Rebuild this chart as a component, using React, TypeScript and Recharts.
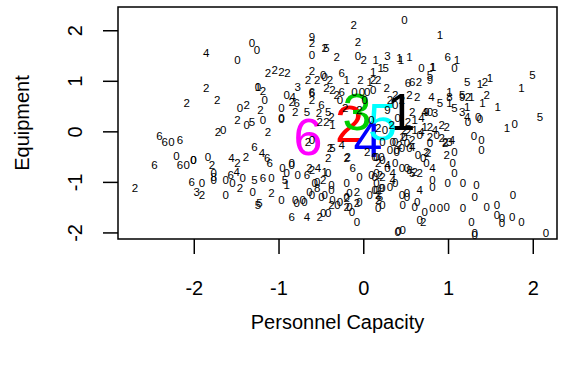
import { ScatterChart, Scatter, XAxis, YAxis, ReferenceArea, Label } from 'recharts';

// small labels: one array of [x, y] per digit
const zeros: [number, number][] = [
  [-1.49, 1.42], [-1.32, 1.76], [-1.26, 1.62], [-1.46, 0.47], [-1.25, 0.89], [-1.38, 0.14], [-1.66, 0.04],
  [-2.27, -0.2], [-2.21, -0.47], [-2.09, -0.65], [-2.01, -0.55], [-2.01, -0.55], [-1.84, -0.49], [-1.77, -0.81],
  [-1.77, -0.95], [-1.63, -0.95], [-1.43, -0.91], [-1.55, -1.01], [-1.31, -1.19], [-1.91, -1.01], [-1.63, -1.24],
  [0.48, 2.21], [-0.61, 1.52], [-0.07, 1.5], [-0.46, 1.09], [-1.17, 0.63], [-0.91, 0.73], [-0.11, 0.79],
  [-0.02, 0.79], [0.04, 0.79], [0.11, 0.83], [-0.97, 0.47], [-0.97, 0.28], [-0.48, 1.13],
  [0.68, 1.26], [1.07, 1.26], [1.35, 0.3], [0.78, 0.4], [1.23, 0.2], [1.37, 0.26], [1.78, 0.16],
  [1.3, -0.08], [1.39, -0.16], [1.39, -0.36], [1.07, -0.4], [1.05, -0.61], [1.07, -0.81], [0.81, -0.95],
  [0.99, -1.01], [1.17, -1.01], [1.33, -1.05], [0.81, -1.09], [1.31, -1.28], [1.76, -1.24], [0.45, -1.24],
  [0.51, -1.21], [0.46, -1.44], [0.6, -1.48], [0.72, -1.58], [0.81, -1.5], [0.9, -1.5], [0.98, -1.48],
  [1.17, -1.5], [1.45, -1.48], [1.57, -1.44], [1.57, -1.64], [1.63, -1.7], [1.63, -1.8], [1.75, -1.68],
  [1.86, -1.78], [1.27, -1.78], [0.66, -1.74], [1.31, -2.04], [1.31, -2.0], [2.15, -2.0], [0.46, -1.94],
  [0.4, -1.98], [0.41, -1.95],
  [0.45, -0.32], [0.54, -0.32], [0.7, -0.51], [0.48, -0.1], [0.66, -0.06], [0.86, -0.06], [0.37, -0.2],
  [0.51, -0.22], [0.78, -0.22], [0.39, -0.4], [0.64, -0.45], [0.15, -0.49], [0.21, -0.49], [0.37, -0.61],
  [0.74, -0.61], [0.45, -0.71], [0.51, -0.71], [0.15, -0.81], [0.37, -1.01], [0.31, -1.09], [0.15, -1.01],
  [0.15, -1.15], [0.22, -1.11], [0.51, -1.28], [0.63, -1.38],
  [-1.19, 0.24], [-0.97, 0.26], [-0.96, -0.71], [-0.85, -0.65], [-0.78, -0.85], [-0.91, -0.81], [-0.42, -0.81],
  [-1.09, -0.91], [-0.97, -1.34], [-0.81, -1.34], [-0.79, -1.4], [-0.7, -1.38], [-0.64, -1.19], [-0.61, -1.24],
  [-0.58, -1.01], [-0.46, -1.24], [-0.38, -1.05], [-0.38, -1.15], [-0.48, -1.6], [-0.42, -1.6], [-0.31, -1.44],
  [-0.17, -1.48], [-0.05, -1.38], [-0.2, -1.01], [-0.17, -1.21], [-0.2, -1.28], [-0.14, -1.58], [-0.08, -1.78],
  [0.07, -1.24], [0.13, -1.15], [0.22, -1.44], [0.17, -1.5], [-0.05, -0.89], [-0.61, -0.16], [0.22, -0.2],
  [0.34, -0.2], [0.39, -0.36], [0.31, -0.36], [0.22, -0.55], [0.13, -0.89], [0.28, -0.71], [-0.85, -0.61],
  [-0.55, -0.99], [-0.72, -1.34], [-0.5, -1.28], [-0.37, -1.34], [-0.28, -1.38], [0.09, -0.85], [0.13, -0.49],
  [0.37, 0.53], [0.25, 0.04], [0.01, 0.63], [-0.28, 0.63], [0.09, 0.24], [0.4, 0.28],
];

const ones: [number, number][] = [
  [-1.25, 0.89], [0.14, 1.42], [0.44, 1.42], [0.2, 1.26], [0.11, 1.19], [-0.2, 1.03], [0.07, 0.99],
  [0.9, 1.92], [0.42, 1.46], [0.54, 1.48], [1.1, 1.42], [0.81, 1.28], [0.82, 1.29], [1.37, 0.95],
  [1.49, 1.07], [1.86, 0.87], [1.01, 0.79], [1.27, 0.69], [1.4, 0.57], [1.58, 0.49], [1.01, 0.57],
  [1.22, 0.49], [0.6, 0.24], [0.72, 0.1], [0.6, 0.04], [1.69, 0.08], [-0.46, -0.79], [-0.91, -1.05],
  [-0.37, 0.14],
];

const twos: [number, number][] = [
  [-1.86, 0.87], [-2.09, 0.57], [-1.73, 0.63], [-1.38, 0.53], [-1.49, 0.24], [-1.72, 0.0], [-1.79, -0.65],
  [-1.49, -0.61], [-1.39, -0.49], [-1.46, -1.11], [-1.91, -1.24], [-2.7, -1.11],
  [-0.12, 2.11], [-0.61, 1.76], [-0.46, 1.66], [-0.07, 1.78], [-0.32, 1.48], [0.0, 1.42], [-1.13, 1.17],
  [-1.05, 1.23], [-0.97, 1.19], [-0.9, 1.17], [-0.61, 1.21], [-0.66, 1.03], [-0.55, 1.03], [-0.4, 1.03],
  [-0.04, 1.03], [0.11, 1.03], [0.17, 1.03], [-1.19, 0.81], [-0.61, 0.63], [-0.85, 0.59], [-0.44, 0.87],
  [-0.37, 0.83], [-0.32, 0.73], [0.27, 0.87], [-1.22, 0.43], [-0.53, 0.38], [-0.38, 0.3], [-0.81, 0.4],
  [0.65, 0.99], [1.43, 0.99], [0.54, 0.73], [0.63, 0.69], [1.23, 0.69], [1.45, 0.73], [0.57, 0.4],
  [0.52, 0.2], [0.78, 0.1], [0.92, 0.14], [0.98, 0.1], [0.52, 0.0],
  [0.98, -0.45], [0.7, -1.78], [0.74, -0.4], [0.57, -0.16], [0.78, -0.1], [0.96, -0.2], [0.46, -0.1],
  [0.92, -0.12], [0.42, -0.26], [0.96, -0.22], [0.76, -0.41], [0.6, -0.79], [0.66, -0.81], [0.22, -0.89],
  [0.17, -1.34],
  [-1.13, 0.0], [-0.64, -0.71], [-1.09, -1.21], [-0.52, -1.68], [-0.38, -1.44], [-0.2, -1.48], [-0.08, -1.4],
  [-0.08, -1.19], [0.17, -1.24], [-0.42, -0.51], [-0.2, -0.51], [-0.66, -0.2], [-0.4, -0.32], [-0.52, 0.2],
  [-0.44, 0.2], [0.04, -0.4], [0.17, -0.61], [0.19, -0.85], [-0.61, -0.75], [-0.48, -0.95], [-0.2, -1.3],
  [-0.19, -0.49],
  [0.31, 0.63], [0.33, 0.14], [0.17, 0.08], [-0.05, 0.43], [-0.22, 0.47], [0.37, 0.73], [0.45, 0.63],
  [0.48, 0.04],
];

const threes: [number, number][] = [
  [-1.97, -1.19], [0.28, 1.5], [-0.78, 0.89], [1.16, 0.4], [0.84, 0.38], [1.01, -0.2],
];

const fours: [number, number][] = [
  [-1.86, 1.56], [-1.56, -0.51], [-1.5, -0.79], [-0.84, 0.69], [0.8, 0.69], [1.22, 0.3], [0.72, 0.4],
  [0.68, 0.28], [0.84, 0.04], [0.68, 0.0], [0.81, -0.71], [0.66, -1.15], [1.04, -0.16], [0.57, -0.3],
  [0.28, -0.65], [0.34, -0.81], [0.34, -0.95], [-1.2, -0.41], [-0.54, -0.71], [-0.67, -1.68], [-0.26, -0.26],
];

const fives: [number, number][] = [
  [-1.32, 0.2], [-1.29, -0.95], [-1.25, -1.44], [-0.44, 1.66], [0.26, 1.26], [0.78, 1.13], [1.22, 0.99],
  [1.99, 1.13], [1.16, 0.73], [0.9, 0.57], [1.07, 0.47], [2.08, 0.3], [0.57, -0.81], [0.19, -1.28],
  [-0.67, 0.4], [-0.42, 0.4], [-0.93, -0.95], [-1.23, -1.4], [-0.37, -0.32],
];

const sixes: [number, number][] = [
  [-2.41, -0.08], [-2.35, -0.2], [-2.17, -0.16], [-2.47, -0.65], [-2.17, -0.65], [-1.29, -0.3], [-1.57, -0.85],
  [-2.03, -0.99], [-0.26, 1.17], [-0.61, 0.79], [-0.61, 0.77], [-0.79, 0.57], [-0.26, 0.79], [0.52, 0.97],
  [0.99, 1.48], [0.57, 0.99], [-0.5, 0.53], [-1.14, -0.51], [-1.11, -0.61], [-0.67, -0.85], [-1.19, -0.91],
  [-0.85, -1.68], [-0.13, -0.71],
];

const eights: [number, number][] = [[-1.77, -0.89], [1.01, 0.69], [0.54, -0.75], [-0.55, -1.11]];

const nines: [number, number][] = [[-0.61, 1.88], [0.78, 1.03], [1.16, 0.69], [0.74, 0.4], [0.21, -1.11], [0.28, 0.43]];

const digitLabels = ['0', '1', '2', '3', '4', '5', '6', '8', '9'];
const digitPoints = [zeros, ones, twos, threes, fours, fives, sixes, eights, nines];

// cluster centres, drawn large
const centerLabels = ['1', '2', '3', '4', '5', '6'];
const centerX = [0.44, -0.17, -0.08, 0.05, 0.22, -0.66];
const centerY = [0.4, 0.16, 0.41, -0.12, 0.2, -0.08];
const centerColors = ['#000000', '#ff0000', '#00cd00', '#0000ff', '#00ffff', '#ff00ff'];

const xTicks = [-2, -1, 0, 1, 2];
const yTicks = [-2, -1, 0, 1, 2];

const FONT = "'Liberation Sans', Arial, sans-serif";
const AXIS_FS = 20;
const SMALL_FS = 11.5;
const BIG_FS = 52;

const X_DOMAIN: [number, number] = [-2.9, 2.28];
const Y_DOMAIN: [number, number] = [-2.12, 2.47];

const textShape = (label: string, size: number, color: string) => (props: any) => (
  <text
    x={props.cx}
    y={props.cy}
    dy={size * 0.36}
    textAnchor="middle"
    fontSize={size}
    fontFamily={FONT}
    fill={color}
  >
    {label}
  </text>
);

const XTick = ({ x, payload }: any) => (
  <text x={x} y={288} dy={AXIS_FS * 0.36} textAnchor="middle" fontSize={AXIS_FS} fontFamily={FONT} fill="#000">
    {payload.value}
  </text>
);

const YTick = ({ y, payload }: any) => {
  const cx = 75;
  return (
    <text
      x={cx}
      y={y}
      dy={AXIS_FS * 0.36}
      transform={`rotate(-90, ${cx}, ${y})`}
      textAnchor="middle"
      fontSize={AXIS_FS}
      fontFamily={FONT}
      fill="#000"
    >
      {payload.value}
    </text>
  );
};

const App = () => (
  <div style={{ position: 'absolute', left: 0, top: 0, background: '#fff' }}>
    <ScatterChart width={563} height={368} margin={{ top: 7, right: 6, bottom: 0, left: 0 }}>
      <XAxis
        type="number"
        dataKey="x"
        domain={X_DOMAIN}
        ticks={xTicks}
        allowDataOverflow
        height={129}
        tickSize={15}
        tickMargin={2}
        axisLine={false}
        tickLine={{ stroke: '#000', strokeWidth: 1.5 }}
        tick={<XTick />}
      >
        <Label
          content={({ viewBox }: any) => (
            <text
              x={viewBox.x + viewBox.width / 2}
              y={322}
              dy={AXIS_FS * 0.36}
              textAnchor="middle"
              fontSize={AXIS_FS}
              fontFamily={FONT}
              fill="#000"
            >
              Personnel Capacity
            </text>
          )}
        />
      </XAxis>
      <YAxis
        type="number"
        dataKey="y"
        domain={Y_DOMAIN}
        ticks={yTicks}
        allowDataOverflow
        width={118}
        tickSize={15}
        tickMargin={2}
        axisLine={false}
        tickLine={{ stroke: '#000', strokeWidth: 1.5 }}
        tick={<YTick />}
      >
        <Label
          content={() => (
            <text
              x={22}
              y={123}
              dy={AXIS_FS * 0.36}
              transform="rotate(-90, 22, 123)"
              textAnchor="middle"
              fontSize={AXIS_FS}
              fontFamily={FONT}
              fill="#000"
            >
              Equipment
            </text>
          )}
        />
      </YAxis>
      <ReferenceArea
        x1={X_DOMAIN[0]}
        x2={X_DOMAIN[1]}
        y1={Y_DOMAIN[0]}
        y2={Y_DOMAIN[1]}
        fill="none"
        stroke="#000"
        strokeWidth={1.5}
        ifOverflow="visible"
      />
      {centerLabels.map((label, i) => (
        <Scatter
          key={`c-${label}`}
          data={[{ x: centerX[i], y: centerY[i] }]}
          isAnimationActive={false}
          shape={textShape(label, BIG_FS, centerColors[i])}
        />
      ))}
      {digitLabels.map((label, i) => (
        <Scatter
          key={`d-${label}`}
          data={digitPoints[i].map(([x, y]) => ({ x, y }))}
          isAnimationActive={false}
          shape={textShape(label, SMALL_FS, '#000')}
        />
      ))}
    </ScatterChart>
  </div>
);

export default App;
